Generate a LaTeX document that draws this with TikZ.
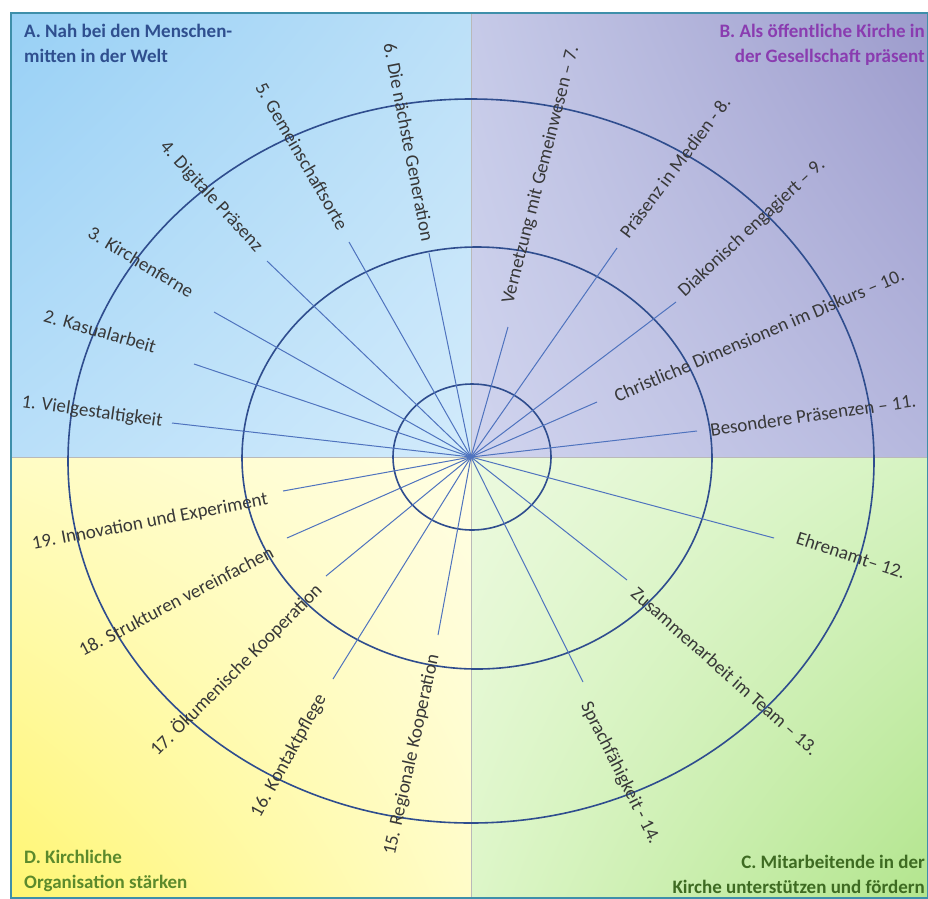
\documentclass[tikz,border=0pt]{standalone}
\usepackage{fontspec}
\setmainfont{Carlito}
\usetikzlibrary{positioning,shadings}

\definecolor{spokeblue}{HTML}{4F73BE}
\definecolor{ringblue}{HTML}{2F4D8E}
\definecolor{lbltext}{HTML}{383838}
\definecolor{titleA}{HTML}{2F4F8F}
\definecolor{titleB}{HTML}{8A3CB0}
\definecolor{titleC}{HTML}{3E6B22}
\definecolor{titleD}{HTML}{5C8A2C}
\definecolor{framecol}{HTML}{3E8FAA}
\definecolor{aUL}{HTML}{98D0F5}
\definecolor{aUR}{HTML}{BCE0F8}
\definecolor{aLL}{HTML}{B9DFF9}
\definecolor{aLR}{HTML}{D2EBFB}
\definecolor{bUL}{HTML}{C6CAE8}
\definecolor{bUR}{HTML}{9C9BCC}
\definecolor{bLL}{HTML}{D0D4EE}
\definecolor{bLR}{HTML}{B6B8DE}
\definecolor{cUL}{HTML}{ECFADF}
\definecolor{cUR}{HTML}{D6F3C2}
\definecolor{cLL}{HTML}{DDF6C8}
\definecolor{cLR}{HTML}{B3E58E}
\definecolor{dUL}{HTML}{FFFCC4}
\definecolor{dUR}{HTML}{FFFEE4}
\definecolor{dLL}{HTML}{FFF672}
\definecolor{dLR}{HTML}{FFFCC8}

\tikzset{
	spoke/.style={draw=spokeblue, line width=1pt},
	ring/.style={draw=ringblue, line width=1.6pt},
	lbl/.style={text=lbltext, font=\fontsize{19}{21}\selectfont, inner sep=0pt},
	ttl/.style={font=\bfseries\fontsize{19}{25}\selectfont, inner sep=0pt},
}

\begin{document}
\begin{tikzpicture}[x=1pt,y=-1pt]
	\useasboundingbox (0,0) rectangle (928,898);
	\shade[upper left=aUL, upper right=aUR, lower left=aLL, lower right=aLR] (11,13) rectangle (471,457);
	\shade[upper left=bUL, upper right=bUR, lower left=bLL, lower right=bLR] (471,13) rectangle (928,457);
	\shade[upper left=cUL, upper right=cUR, lower left=cLL, lower right=cLR] (471,457) rectangle (928,898);
	\shade[upper left=dUL, upper right=dUR, lower left=dLL, lower right=dLR] (11,457) rectangle (471,898);
	\draw[gray!55, line width=1pt] (471,13) -- (471,898) (11,457) -- (928,457);
	\draw[framecol, line width=1.6pt] (11,13) rectangle (928,898);

	\draw[ring] (471,461) ellipse [x radius=403, y radius=362];
	\draw[ring] (477,458) ellipse [x radius=235, y radius=211];
	\draw[ring] (472,457) ellipse [x radius=79, y radius=73];

	\coordinate (c) at (471,457);
	\foreach \i/\x/\y in {1/172/423, 2/194/364, 3/214/312, 4/267/261, 5/349/242, 6/429/253,
		7/508/327, 8/617/248, 9/676/302, 10/597/402, 11/697/431, 12/774/538, 13/627/580,
		14/583/682, 15/438/635, 16/333/679, 17/326/576, 18/287/538, 19/283/491}
	{
		\coordinate (e\i) at (\x,\y);
		\draw[spoke] (c) -- (e\i);
	}

	\foreach \i/\x/\y/\a/\t in {
		1/92/412/-8/{1. Vielgestaltigkeit},
		2/100/331/-16/{2. Kasualarbeit},
		3/141/262/-31/{3. Kirchenferne},
		4/211/197/-47.5/{4. Digitale Präsenz},
		5/302/156/-60/{5. Gemeinschaftsorte},
		6/409/142/-79/{6. Die nächste Generation},
		7/541/175/75.7/{Vernetzung mit Gemeinwesen – 7.},
		8/675/167/53/{Präsenz in Medien - 8.},
		9/752/228/43/{Diakonisch engagiert – 9.},
		10/759/335/23/{Christliche Dimensionen im Diskurs – 10.},
		11/813/415/8.2/{Besondere Präsenzen – 11.},
		12/851/555/-18/{Ehrenamt– 12.},
		13/725/671/-41.5/{Zusammenarbeit im Team – 13.},
		14/620/773/-63.4/{Sprachfähigkeit - 14.},
		15/412/755/77.6/{15. Regionale Kooperation},
		16/289/756/61/{16. Kontaktpflege},
		17/236/670/45/{17. Ökumenische Kooperation},
		18/176/601/27.6/{18. Strukturen vereinfachen},
		19/150/522/10.8/{19. Innovation und Experiment}}
	{
		\node[lbl, rotate=\a] (l\i) at (\x,\y) {\t};
	}

	\node[ttl, text=titleA, align=left, anchor=north west] (tA) at (24,24) {A. Nah bei den Menschen-\\mitten in der Welt};
	\node[ttl, text=titleB, align=right, anchor=north east] (tB) at (925,24) {B. Als öffentliche Kirche in\\der Gesellschaft präsent};
	\node[ttl, text=titleC, align=right, anchor=south east] (tC) at (925,894) {C. Mitarbeitende in der\\Kirche unterstützen und fördern};
	\node[ttl, text=titleD, align=left, anchor=south west] (tD) at (24,892) {D. Kirchliche\\Organisation stärken};
\end{tikzpicture}
\end{document}
